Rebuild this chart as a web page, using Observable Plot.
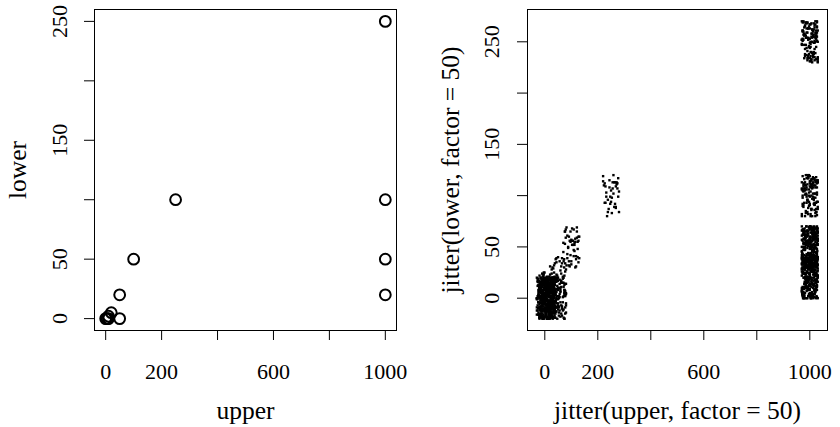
<!DOCTYPE html>
<html>
<head>
<meta charset="utf-8">
<script src="https://cdn.jsdelivr.net/npm/d3@7"></script>
<script src="https://cdn.jsdelivr.net/npm/@observablehq/plot@0.6"></script>
<style>
  html, body { margin: 0; padding: 0; background: #fff; }
  #wrap { display: flex; width: 840px; height: 427px; }
  #wrap svg { display: block; }
</style>
</head>
<body>
<div id="wrap"></div>
<script>
// Underlying observations (distinct upper/lower pairs and how many of each)
const upper = [0, 5, 10, 10, 20, 50, 50, 100, 250, 1000, 1000, 1000, 1000];
const lower = [0, 0, 0, 2, 5, 0, 20, 50, 100, 20, 50, 100, 250];
const count = [180, 120, 120, 60, 80, 100, 40, 55, 40, 290, 290, 130, 130];

// Tick values and labels
const xTicks = [0, 200, 400, 600, 800, 1000];
const xLabels = [0, 200, 600, 1000];
const yTicks = [0, 50, 100, 150, 200, 250];
const yLabels = [0, 50, 150, 250];

// jitter(x, factor = 50): amount = factor/5 * smallest gap
const ampX = 30, ampY = 20;

// Hand-read jitter offsets (x in tenths, y in twentieths of the amount)
const jx = [
-7,3,9,-2,5,-10,1,8,-4,6,-9,0,4,-6,10,-1,7,-3,2,-8,
6,-5,-9,3,8,-2,0,-7,9,4,-4,1,-10,7,-6,5,2,-3,10,-8,
-1,9,-5,6,3,-9,8,0,-2,4,7,-7,1,-4,10,-6,5,-10,2,-3,
8,-8,4,-1,9,6,-5,3,-9,0,-3,7,1,-6,5,10,-2,-7,2,8,
-4,9,-10,4,0,-8,6,3,-1,7,-5,1,9,-9,5,-3,2,10,-6,-2,
3,-7,8,0,-4,6,-10,5,1,-8,7,-1,4,-5,9,2,-9,10,-3,6,
-6,0,8,-2,3,-7,5,9,-4,1,-10,7,-1,4,6,-8,2,-5,10,-3,
9,-9,0,5,-6,3,8,-2,-7,1,4,10,-4,7,-1,2,-10,6,-8,5,
-3,9,-5,0,8,3,-9,6,-2,10,1,-6,4,-7,7,-4,2,9,-8,-1,
5,-10,3,8,-5,0,6,-3,10,-9,1,7,-6,4,-2,9,-7,2,-4,8
];
const jy = [
13,-4,-17,8,19,-11,2,-20,6,15,-8,11,-1,-15,17,4,-12,9,-6,20,
-19,7,14,-3,-9,18,1,-14,10,-18,5,16,-7,12,-2,-16,3,19,-10,8,
-5,15,-13,0,11,-20,6,17,-4,-11,9,2,-17,13,18,-8,-1,14,-15,4,
7,-19,10,-6,16,-12,3,-2,20,-9,12,-16,5,19,-13,1,-7,15,8,-18,
-3,11,-10,17,2,-14,6,-5,13,18,-20,9,0,-11,16,4,-17,7,-8,14,
19,-6,3,-15,10,-1,12,-19,5,8,-12,15,-4,1,-9,17,20,-16,6,-2,
-13,9,11,-7,4,-18,14,0,-10,16,7,-3,-20,13,2,-14,18,5,-5,10,
-8,20,-1,12,-16,3,6,-11,15,-19,1,9,-6,17,-12,11,4,-9,19,-15,
2,-7,16,8,-18,13,-2,5,-13,10,18,-4,-17,7,0,14,-10,3,-20,12,
-14,6,17,-3,9,-9,11,19,-5,1,-16,15,8,-1,-11,4,13,-18,2,20
];

const pairs = upper.map((u, k) => ({upper: u, lower: lower[k]}));

const N = jx.length;
const jittered = [];
upper.forEach((u, k) => {
  for (let i = 0; i < count[k]; i++) {
    const lap = Math.floor(i / N) % 2, j = i % N;
    const a = (k * 37 + j) % N, b = (k * 61 + 7 * j) % N;
    const ux = lap ? jy[a] / 20 : jx[a] / 10;
    const uy = lap ? jx[b] / 10 : jy[b] / 20;
    jittered.push({x: u + ux * ampX, y: lower[k] + uy * ampY});
  }
});

const FONT = "Liberation Serif, Times New Roman, serif";
const TICKFS = 22, TITLEFS = 25.5;

function panel({xDomain, yDomain, mL, mR, dataMark, xTitle, yTitle, yLabDx, yTitleDx}) {
  return Plot.plot({
    width: 420, height: 427,
    marginLeft: mL, marginRight: mR, marginTop: 9, marginBottom: 97,
    style: {fontFamily: FONT, fontSize: TICKFS + "px", background: "white", color: "black", overflow: "visible"},
    x: {domain: xDomain, ticks: xTicks, tickSize: 10, tickFormat: () => "", label: null},
    y: {domain: yDomain, ticks: yTicks, tickSize: 10, tickFormat: () => "", label: null},
    marks: [
      Plot.frame({stroke: "black", strokeWidth: 1}),
      dataMark,
      Plot.text(xLabels, {x: d => d, text: d => String(d), frameAnchor: "bottom", dy: 48, textAnchor: "middle", lineAnchor: "bottom", fontSize: TICKFS}),
      Plot.text(yLabels, {y: d => d, text: d => String(d), frameAnchor: "left", dx: yLabDx, rotate: -90, textAnchor: "middle", lineAnchor: "bottom", fontSize: TICKFS}),
      Plot.text([xTitle], {text: d => d, frameAnchor: "bottom", dy: 88, textAnchor: "middle", lineAnchor: "bottom", fontSize: TITLEFS}),
      Plot.text([yTitle], {text: d => d, frameAnchor: "left", dx: yTitleDx, rotate: -90, textAnchor: "middle", lineAnchor: "bottom", fontSize: TITLEFS})
    ]
  });
}

const left = panel({
  xDomain: [-40, 1040], yDomain: [-10, 260], mL: 94, mR: 24,
  dataMark: Plot.dot(pairs, {x: "upper", y: "lower", r: 5.4, stroke: "black", strokeWidth: 2, fill: "none"}),
  xTitle: "upper", yTitle: "lower", yLabDx: -27.5, yTitleDx: -69
});

const right = panel({
  xDomain: [-65.3, 1066.8], yDomain: [-31.5, 281.5], mL: 107, mR: 13,
  dataMark: Plot.dot(jittered, {x: "x", y: "y", r: 1.35, symbol: "square", fill: "black", stroke: "none"}),
  xTitle: "jitter(upper, factor = 50)", yTitle: "jitter(lower, factor = 50)", yLabDx: -28.7, yTitleDx: -68.7
});

document.getElementById("wrap").append(left, right);
</script>
</body>
</html>
